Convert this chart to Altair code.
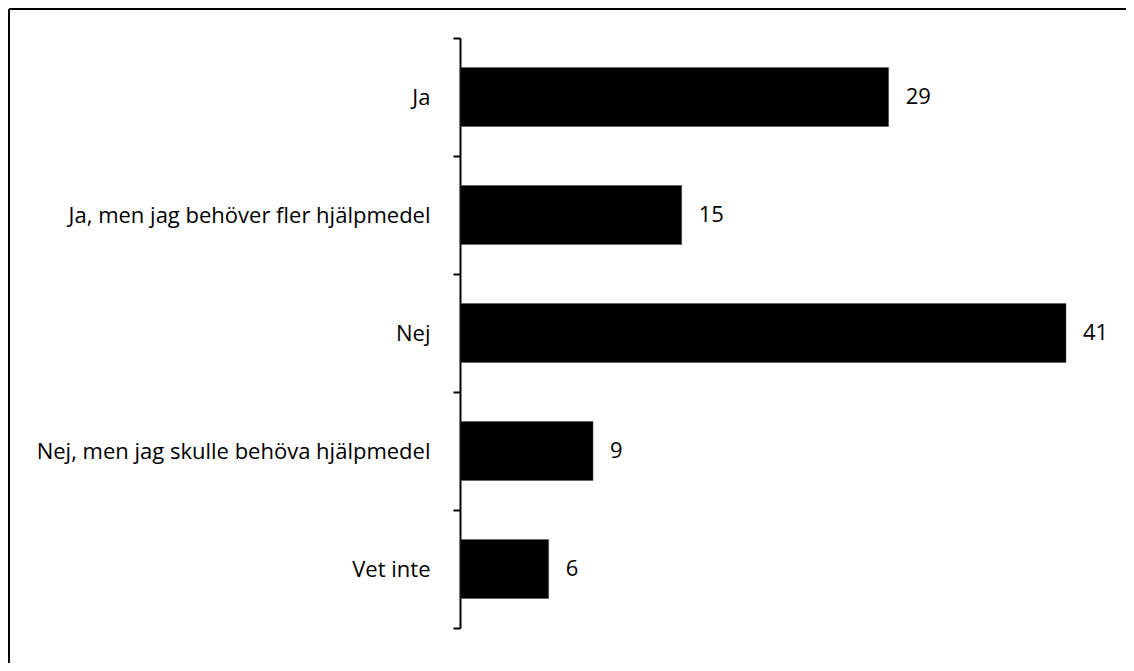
import altair as alt
import pandas as pd

categories = ["Ja", "Ja, men jag behöver fler hjälpmedel", "Nej",
              "Nej, men jag skulle behöva hjälpmedel", "Vet inte"]
values = [29, 15, 41, 9, 6]

df = pd.DataFrame({"kategori": categories, "andel": values})

FONT = "Open Sans"
FS = 22
W, H = 606, 590
PAD_L, PAD_T, PAD_R, PAD_B = 452, 30, 60, 35

y_enc = alt.Y("kategori:N", sort=categories, title=None,
              scale=alt.Scale(paddingInner=0, paddingOuter=0),
              axis=alt.Axis(domainColor="black", domainWidth=2,
                            tickColor="black", tickWidth=2, tickSize=7,
                            tickBand="extent", labelPadding=23,
                            labelFont=FONT, labelFontSize=FS,
                            labelColor="black", labelLimit=500, grid=False))
x_enc = alt.X("andel:Q", title=None,
              scale=alt.Scale(domain=[0, 41], nice=False), axis=None)

bars = alt.Chart(df).mark_bar(color="black", stroke="#555", strokeWidth=0.5,
                              height={"band": 0.5}).encode(x=x_enc, y=y_enc)
labels = alt.Chart(df).mark_text(align="left", baseline="middle", dx=17,
                                 font=FONT, fontSize=FS, color="black").encode(
    x=x_enc, y=alt.Y("kategori:N", sort=categories), text="andel:Q")

one = pd.DataFrame({"a": [0]})
top_border = alt.Chart(one).mark_rule(color="black", strokeWidth=2).encode(
    x=alt.value(-PAD_L + 1), x2=alt.value(W + PAD_R), y=alt.value(-PAD_T + 1))
left_border = alt.Chart(one).mark_rule(color="black", strokeWidth=2).encode(
    x=alt.value(-PAD_L + 1), y=alt.value(-PAD_T + 1), y2=alt.value(H + PAD_B))

chart = alt.layer(bars, labels, top_border, left_border).properties(
    width=W, height=H,
    autosize=alt.AutoSizeParams(type="none"),
    padding={"left": PAD_L, "top": PAD_T, "right": PAD_R, "bottom": PAD_B},
).configure(background="white").configure_view(strokeWidth=0)

chart.save("out.html", embed_options={"renderer": "svg", "actions": False})
